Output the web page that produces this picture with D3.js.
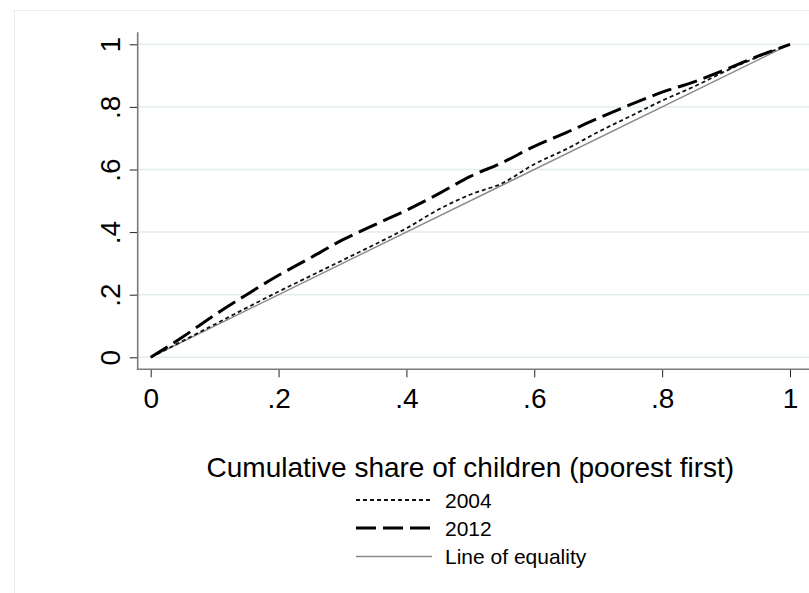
<!DOCTYPE html>
<html>
<head>
<meta charset="utf-8">
<script src="https://cdn.jsdelivr.net/npm/d3@7"></script>
<style>
  html, body { margin: 0; padding: 0; background: #fff; }
  svg { display: block; }
  text { font-family: Arial, "Liberation Sans", sans-serif; fill: #000; }
</style>
</head>
<body>
<script>
// Concentration curves: cumulative share of children (poorest first)
const shares = [0, 0.05, 0.10, 0.15, 0.20, 0.25, 0.30, 0.35, 0.40, 0.45, 0.50, 0.55, 0.60, 0.65, 0.70, 0.75, 0.80, 0.85, 0.90, 0.95, 1];
const values2004 = [0, 0.052, 0.105, 0.158, 0.21, 0.26, 0.31, 0.36, 0.412, 0.472, 0.52, 0.556, 0.617, 0.665, 0.72, 0.77, 0.82, 0.865, 0.915, 0.96, 1];
const values2012 = [0, 0.065, 0.135, 0.20, 0.262, 0.318, 0.375, 0.423, 0.470, 0.522, 0.578, 0.622, 0.674, 0.718, 0.764, 0.807, 0.847, 0.880, 0.920, 0.962, 1];
const equality = [0, 1];

const xTicks = [0, 0.2, 0.4, 0.6, 0.8, 1];
const yTicks = [0, 0.2, 0.4, 0.6, 0.8, 1];
const tickLabels = ["0", ".2", ".4", ".6", ".8", "1"];

const xTitle = "Cumulative share of children (poorest first)";
const legendLabels = ["2004", "2012", "Line of equality"];

const W = 809, H = 593;
const svg = d3.select("body").append("svg").attr("width", W).attr("height", H);

// outer graph region outline
svg.append("rect")
  .attr("x", 14.5).attr("y", 10.5).attr("width", W + 20).attr("height", H + 20)
  .attr("fill", "none").attr("stroke", "#e4ecee").attr("stroke-width", 1);

const x = d3.scaleLinear().domain([0, 1]).range([150.7, 790]);
const y = d3.scaleLinear().domain([0, 1]).range([357.3, 44.3]);

const plotLeft = 137.7, plotTop = 32.3, plotBottom = 369.3, plotRight = 812;

// horizontal gridlines
svg.append("g").selectAll("line").data(yTicks).join("line")
  .attr("x1", plotLeft).attr("x2", plotRight)
  .attr("y1", d => y(d)).attr("y2", d => y(d))
  .attr("stroke", "#e3ecef").attr("stroke-width", 1.5);

// axes
const yAxis = d3.axisLeft(y).tickValues(yTicks)
  .tickFormat(d => tickLabels[yTicks.indexOf(d)]).tickSize(8).tickPadding(0);
const xAxis = d3.axisBottom(x).tickValues(xTicks)
  .tickFormat(d => tickLabels[xTicks.indexOf(d)]).tickSize(8).tickPadding(0);

const gy = svg.append("g").attr("transform", `translate(${plotLeft},0)`).call(yAxis);
gy.select(".domain").remove();
gy.selectAll(".tick line").attr("stroke", "#222").attr("stroke-width", 1);
gy.selectAll(".tick text")
  .attr("font-size", 28).attr("x", 0).attr("y", 0).attr("dy", null)
  .attr("text-anchor", "middle")
  .attr("transform", `translate(${120 - plotLeft},0) rotate(-90)`);

const gx = svg.append("g").attr("transform", `translate(0,${plotBottom})`).call(xAxis);
gx.select(".domain").remove();
gx.selectAll(".tick line").attr("stroke", "#222").attr("stroke-width", 1);
gx.selectAll(".tick text").attr("font-size", 28).attr("dy", null).attr("y", 408.5 - plotBottom);

// axis lines
svg.append("line").attr("x1", plotLeft).attr("x2", plotLeft).attr("y1", plotTop).attr("y2", plotBottom + 0.8)
  .attr("stroke", "#7a7a7a").attr("stroke-width", 1.6);
svg.append("line").attr("x1", plotLeft - 0.8).attr("x2", plotRight).attr("y1", plotBottom).attr("y2", plotBottom)
  .attr("stroke", "#7a7a7a").attr("stroke-width", 1.6);

// curves
const line = d3.line().x(d => x(d[0])).y(d => y(d[1])).curve(d3.curveMonotoneX);
const styles = [
  { dash: "4,3", width: 1.8, color: "#111" },
  { dash: "20,7", width: 3, color: "#000" },
  { dash: null, width: 1.4, color: "#8a8a8a" }
];
const series = [
  d3.zip(shares, values2004),
  d3.zip(shares, values2012),
  d3.zip(equality, equality)
];

[2, 0, 1].forEach(i => {
  svg.append("path").datum(series[i])
    .attr("d", line).attr("fill", "none")
    .attr("stroke", styles[i].color)
    .attr("stroke-width", styles[i].width)
    .attr("stroke-dasharray", styles[i].dash);
});

// x-axis title
svg.append("text").attr("x", (x(0) + x(1)) / 2).attr("y", 477)
  .attr("text-anchor", "middle").attr("font-size", 28).text(xTitle);

// legend
const legY = [500, 528, 556.5];
const lg = svg.append("g");
legendLabels.forEach((lab, i) => {
  lg.append("line").attr("x1", 356).attr("x2", 432)
    .attr("y1", legY[i]).attr("y2", legY[i])
    .attr("stroke", styles[i].color).attr("stroke-width", styles[i].width)
    .attr("stroke-dasharray", styles[i].dash);
  lg.append("text").attr("x", 445).attr("y", legY[i] + 7.5)
    .attr("font-size", 21).text(lab);
});
</script>
</body>
</html>
